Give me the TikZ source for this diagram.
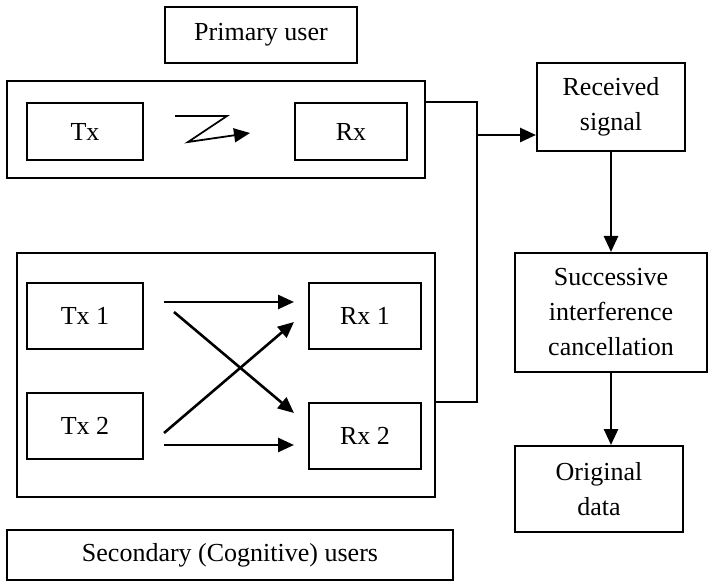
\documentclass[tikz,border=0pt]{standalone}
\usepackage{fontspec}
\setmainfont{Liberation Serif}
\usepackage{tikz}
\usetikzlibrary{arrows.meta, positioning, calc}

\begin{document}
\begin{tikzpicture}[
  x=1pt, y=-1pt,
  box/.style={rectangle, draw=black, line width=2pt, fill=white,
    align=center, inner sep=0pt,
    font=\fontsize{26}{35}\selectfont},
  frame/.style={rectangle, draw=black, line width=2pt,
    inner sep=0pt},
  arr/.style={-{Triangle[length=16pt, width=14pt]}, line width=2.6pt},
  wire/.style={line width=2pt},
  bolt/.style={-{Triangle[length=16pt, width=14pt]}, line width=1.8pt}
]
  \useasboundingbox (0,0) rectangle (713,583);

  % primary pair
  \node[frame, minimum width=418pt, minimum height=97pt] (ptop) at (216,129.5) {};
  \node[box, minimum width=192pt, minimum height=56pt] (puser) at (261,35) {Primary user};
  \node[box, minimum width=116pt, minimum height=57pt] (tx) at (85,131.5) {Tx};
  \node[box, minimum width=112pt, minimum height=57pt] (rx) at (351,131.5) {Rx};
  \draw[bolt] (175,116) -- (227,116) -- (188,142) -- (250,133);

  % secondary pairs
  \node[frame, minimum width=418pt, minimum height=244pt] (sframe) at (226,375) {};
  \node[box, minimum width=116pt, minimum height=66pt] (tx1) at (85,316) {Tx 1};
  \node[box, minimum width=116pt, minimum height=66pt] (tx2) at (85,426) {Tx 2};
  \node[box, minimum width=112pt, minimum height=66pt] (rx1) at (365,316) {Rx 1};
  \node[box, minimum width=112pt, minimum height=66pt] (rx2) at (365,436) {Rx 2};
  \node[box, minimum width=446pt, minimum height=50pt] (suser) at (230,555) {Secondary (Cognitive) users};

  \draw[arr] ([shift={(20,-14)}]tx1.east) -- ([shift={(-14,-14)}]rx1.west);
  \draw[arr] ([shift={(30,-4)}]tx1.east) -- ([shift={(-14,-23)}]rx2.west);
  \draw[arr] ([shift={(20,7)}]tx2.east) -- ([shift={(-14,6)}]rx1.west);
  \draw[arr] ([shift={(20,19)}]tx2.east) -- ([shift={(-14,9)}]rx2.west);

  % receiver chain
  \node[box, minimum width=148pt, minimum height=88pt] (recv) at (611,107) {Received\\signal};
  \node[box, minimum width=192pt, minimum height=119pt] (sic) at (611,312.5) {Successive\\interference\\cancellation};
  \node[box, minimum width=168pt, minimum height=86pt] (orig) at (599,489) {Original\\data};

  \coordinate (bus) at (477,135);
  \draw[wire] (ptop.east |- rx.north) -| (bus |- rx2.north) -- (sframe.east |- rx2.north);
  \draw[arr] (bus) -- (recv.west |- bus);
  \draw[arr] (recv) -- (sic);
  \draw[arr] (sic.south) -- (sic.south |- orig.north);
\end{tikzpicture}
\end{document}
